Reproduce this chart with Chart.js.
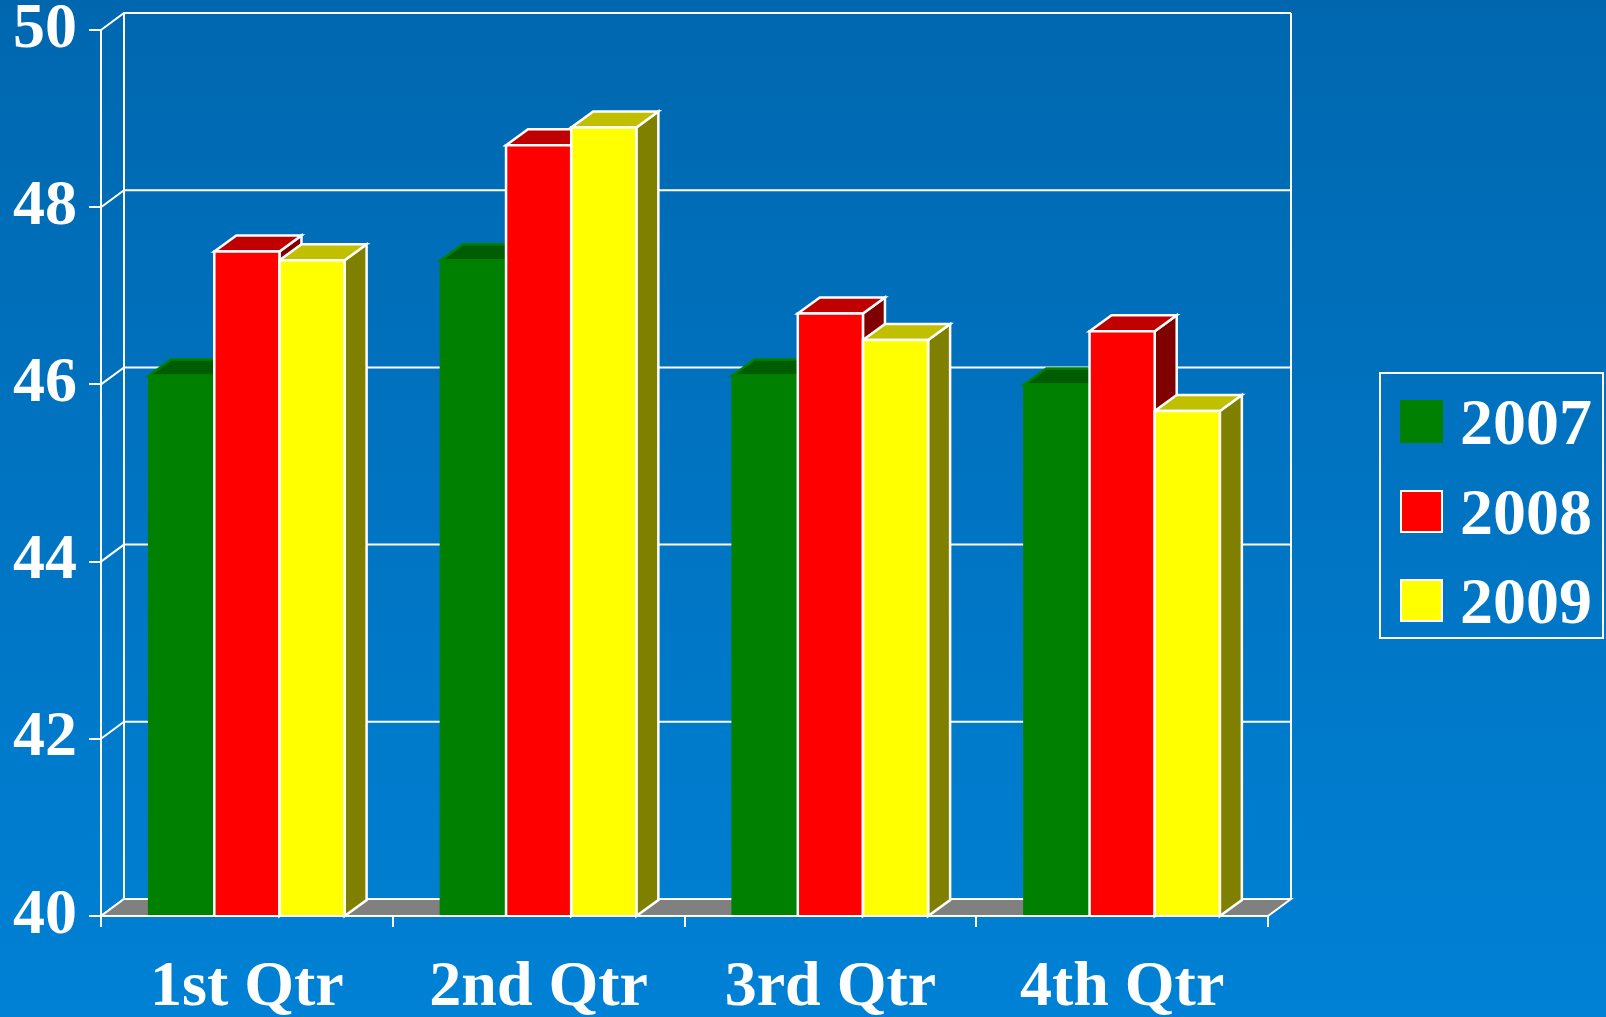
<!DOCTYPE html>
<html>
<head>
<meta charset="utf-8">
<title>Quarterly figures 2007-2009</title>
<script src="https://cdn.jsdelivr.net/npm/chart.js@4.4.1/dist/chart.umd.min.js"></script>
<style>
  html, body { margin: 0; padding: 0; }
  body {
    width: 1606px; height: 1017px; overflow: hidden; position: relative;
    background: linear-gradient(to bottom, #0067af, #0081d5);
  }
  #wrap { position: absolute; left: 0; top: 0; width: 1606px; height: 1017px; }
  #legend {
    position: absolute; left: 1379px; top: 372px; width: 225px; height: 267px;
    box-sizing: border-box; border: 2px solid #fff; padding: 26px 0 0 19px;
    font: bold 66px "Liberation Serif", "Times New Roman", serif; color: #fff;
  }
  .item { display: flex; height: 43px; margin-bottom: 46.5px; line-height: 43px; }
  .swatch { width: 43px; height: 43px; box-sizing: border-box; flex: none; }
  .item span { margin-left: 17px; }
</style>
</head>
<body>
<div id="wrap"><canvas id="chart"></canvas></div>
<div id="legend"></div>
<script>
const quarters = ['1st Qtr', '2nd Qtr', '3rd Qtr', '4th Qtr'];
const years = ['2007', '2008', '2009'];
const values2007 = [46.1, 47.4, 46.1, 46.0];
const values2008 = [47.5, 48.7, 46.8, 46.6];
const values2009 = [47.4, 48.9, 46.5, 45.7];
const yTicks = [40, 42, 44, 46, 48, 50];

// front / top / side shading and edge colour for each year
const shades = [
    { front: '#008000', top: '#005c00', side: '#004000', edge: '#008000' },
    { front: '#ff0000', top: '#c00000', side: '#800000', edge: '#ffffff' },
    { front: '#ffff00', top: '#c0c000', side: '#808000', edge: '#ffffff' }
];

const BAR_DX = 22, BAR_DY = 16;   // depth of a bar
const WALL_DX = 23, WALL_DY = 17; // depth of the back wall
const serif = '"Liberation Serif", "Times New Roman", serif';

function poly(ctx, pts, fill, stroke) {
    ctx.beginPath();
    ctx.moveTo(pts[0][0], pts[0][1]);
    for (let i = 1; i < pts.length; i++) ctx.lineTo(pts[i][0], pts[i][1]);
    ctx.closePath();
    ctx.fillStyle = fill;
    ctx.fill();
    ctx.strokeStyle = stroke;
    ctx.stroke();
}

// walls, floor and the top/side faces of the bars, then edges on the front faces
const box3d = {
    id: 'box3d',
    beforeDatasetsDraw(chart) {
        const ctx = chart.ctx;
        const { left, right } = chart.chartArea;
        const y = chart.scales.y;
        const yTop = y.getPixelForValue(y.max);
        const floor = y.getPixelForValue(y.min);
        ctx.save();
        ctx.lineWidth = 2;
        ctx.strokeStyle = '#fff';

        // gridlines run along the side wall and across the back wall
        yTicks.forEach(v => {
            const py = y.getPixelForValue(v);
            ctx.beginPath();
            ctx.moveTo(left, py);
            ctx.lineTo(left + WALL_DX, py - WALL_DY);
            ctx.lineTo(right + WALL_DX, py - WALL_DY);
            ctx.stroke();
        });
        ctx.beginPath();
        ctx.moveTo(left + WALL_DX, yTop - WALL_DY);
        ctx.lineTo(left + WALL_DX, floor - WALL_DY);
        ctx.moveTo(right + WALL_DX, yTop - WALL_DY);
        ctx.lineTo(right + WALL_DX, floor - WALL_DY);
        ctx.stroke();

        poly(ctx, [[left, floor], [left + WALL_DX, floor - WALL_DY],
                   [right + WALL_DX, floor - WALL_DY], [right, floor]], '#808080', '#fff');

        // side and top faces, left to right inside each group
        ctx.lineWidth = 2.5;
        quarters.forEach((q, i) => {
            chart.data.datasets.forEach((ds, d) => {
                const bar = chart.getDatasetMeta(d).data[i];
                const s = shades[d];
                const xl = bar.x - bar.width / 2, xr = bar.x + bar.width / 2;
                poly(ctx, [[xr, bar.y], [xr + BAR_DX, bar.y - BAR_DY],
                           [xr + BAR_DX, floor - BAR_DY], [xr, floor]], s.side, s.edge);
                poly(ctx, [[xl, bar.y], [xl + BAR_DX, bar.y - BAR_DY],
                           [xr + BAR_DX, bar.y - BAR_DY], [xr, bar.y]], s.top, s.edge);
            });
        });
        ctx.restore();
    },
    afterDatasetsDraw(chart) {
        const ctx = chart.ctx;
        const floor = chart.scales.y.getPixelForValue(chart.scales.y.min);
        ctx.save();
        ctx.lineWidth = 2.5;
        chart.data.datasets.forEach((ds, d) => {
            ctx.strokeStyle = shades[d].edge;
            chart.getDatasetMeta(d).data.forEach(bar => {
                const xl = bar.x - bar.width / 2, xr = bar.x + bar.width / 2;
                ctx.beginPath();
                ctx.moveTo(xl, floor);
                ctx.lineTo(xl, bar.y);
                ctx.lineTo(xr, bar.y);
                ctx.lineTo(xr, floor);
                ctx.stroke();
            });
        });
        ctx.restore();
    }
};

const series = [values2007, values2008, values2009];

const chart = new Chart(document.getElementById('chart'), {
    type: 'bar',
    data: {
        labels: quarters,
        datasets: years.map((yr, d) => ({
            label: yr,
            data: series[d],
            backgroundColor: shades[d].front,
            borderWidth: 0,
            categoryPercentage: 0.67,
            barPercentage: 1.0
        }))
    },
    options: {
        responsive: true,
        maintainAspectRatio: false,
        animation: false,
        layout: { padding: { left: 0, right: 338, top: 30, bottom: 0 } },
        plugins: { legend: { display: false }, tooltip: { enabled: false } },
        scales: {
            x: {
                grid: { drawOnChartArea: false, drawTicks: true, tickLength: 11, color: '#fff', lineWidth: 2 },
                border: { display: true, color: '#fff', width: 2, z: 1 },
                ticks: { color: '#fff', padding: 23, maxRotation: 0, font: { family: serif, size: 64, weight: 'bold' } },
                afterFit: s => { s.height = 101; s.paddingLeft = 0; s.paddingRight = 0; }
            },
            y: {
                min: 40, max: 50,
                afterBuildTicks: s => { s.ticks = yTicks.map(v => ({ value: v })); },
                grid: { drawOnChartArea: false, drawTicks: true, tickLength: 12, color: '#fff', lineWidth: 2 },
                border: { display: true, color: '#fff', width: 2 },
                ticks: { color: '#fff', padding: 12, font: { family: serif, size: 64, weight: 'bold' } },
                afterFit: s => { s.width = 101; s.paddingTop = 0; s.paddingBottom = 0; }
            }
        }
    },
    plugins: [box3d]
});

// legend built from the datasets
const legend = document.getElementById('legend');
chart.data.datasets.forEach((ds, d) => {
    const row = document.createElement('div');
    row.className = 'item';
    const sw = document.createElement('div');
    sw.className = 'swatch';
    sw.style.background = ds.backgroundColor;
    sw.style.border = '2.5px solid ' + shades[d].edge;
    const txt = document.createElement('span');
    txt.textContent = ds.label;
    row.appendChild(sw);
    row.appendChild(txt);
    legend.appendChild(row);
});
</script>
</body>
</html>
